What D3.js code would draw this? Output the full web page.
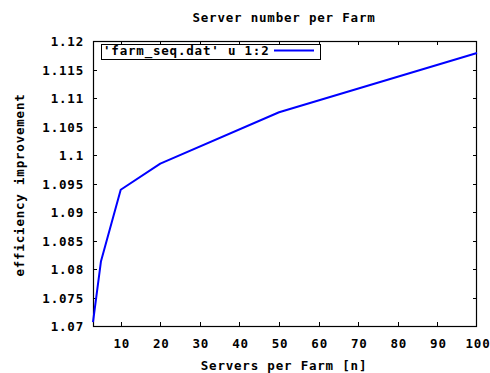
<!DOCTYPE html>
<html><head><meta charset="utf-8">
<script src="https://cdn.jsdelivr.net/npm/d3@7"></script>
<style>
html,body{margin:0;padding:0;background:#fff;}
text{font-family:"DejaVu Sans Mono",monospace;font-weight:bold;font-size:12.5px;letter-spacing:0.8px;fill:#000;}
</style></head><body>
<svg id="c" width="490" height="373"></svg>
<script>
const servers = [3, 5, 10, 20, 50, 100];
const efficiency = [1.0707, 1.0813, 1.0939, 1.0985, 1.1075, 1.1179];
const xTicks = [10, 20, 30, 40, 50, 60, 70, 80, 90, 100];
const yTicks = [1.07, 1.075, 1.08, 1.085, 1.09, 1.095, 1.1, 1.105, 1.11, 1.115, 1.12];
const yTickLabels = ["1.07","1.075","1.08","1.085","1.09","1.095","1.1","1.105","1.11","1.115","1.12"];
const title = "Server number per Farm";
const xLabel = "Servers per Farm [n]";
const yLabel = "efficiency improvement";
const legendLabel = "'farm_seq.dat' u 1:2";

const L = 93, R = 477, T = 41, B = 326;
const svg = d3.select("#c");
const x = d3.scaleLinear().domain([3, 100]).range([L, R]);
const y = d3.scaleLinear().domain([1.07, 1.12]).range([B, T]);

// ticks (inward, mirrored)
const tl = 4;
const g = svg.append("g").attr("stroke", "#000").attr("stroke-width", 1);
xTicks.forEach(v => {
  if (v >= 100) return;
  const px = Math.round(x(v)) + 0.5;
  g.append("line").attr("x1", px).attr("x2", px).attr("y1", B).attr("y2", B - tl);
  g.append("line").attr("x1", px).attr("x2", px).attr("y1", T).attr("y2", T + tl);
});
yTicks.forEach(v => {
  const py = Math.round(y(v)) + 0.5;
  g.append("line").attr("x1", L).attr("x2", L + tl).attr("y1", py).attr("y2", py);
  g.append("line").attr("x1", R).attr("x2", R - tl).attr("y1", py).attr("y2", py);
});

// frame
svg.append("rect").attr("x", L + 0.5).attr("y", T + 0.5).attr("width", R - L - 1).attr("height", B - T)
  .attr("fill", "none").attr("stroke", "#000").attr("stroke-width", 1.2);

// tick labels
svg.append("g").selectAll("text").data(xTicks).join("text")
  .attr("x", d => x(d) + 1).attr("y", 348).attr("text-anchor", "middle").text(d => d);
svg.append("g").selectAll("text").data(yTicks).join("text")
  .attr("x", 84).attr("y", d => y(d) + 5).attr("text-anchor", "end")
  .text((d, i) => yTickLabels[i]);

// line
const line = d3.line().x((d, i) => x(servers[i])).y(d => y(d));
svg.append("path").datum(efficiency).attr("d", line)
  .attr("fill", "none").attr("stroke", "#0000ff").attr("stroke-width", 2).attr("stroke-linejoin", "round");

// legend
svg.append("rect").attr("x", 101.5).attr("y", 44.5).attr("width", 219).attr("height", 15)
  .attr("fill", "#fff").attr("stroke", "#000").attr("stroke-width", 1);
svg.append("text").attr("x", 103).attr("y", 55.3).text(legendLabel);
svg.append("line").attr("x1", 274).attr("x2", 314).attr("y1", 50.5).attr("y2", 50.5)
  .attr("stroke", "#0000ff").attr("stroke-width", 2);

// titles
svg.append("text").attr("x", 284).attr("y", 22).attr("text-anchor", "middle").text(title);
svg.append("text").attr("x", 284).attr("y", 370).attr("text-anchor", "middle").text(xLabel);
svg.append("text").attr("transform", "translate(24,185) rotate(-90)").attr("text-anchor", "middle").text(yLabel);
</script>
</body></html>
